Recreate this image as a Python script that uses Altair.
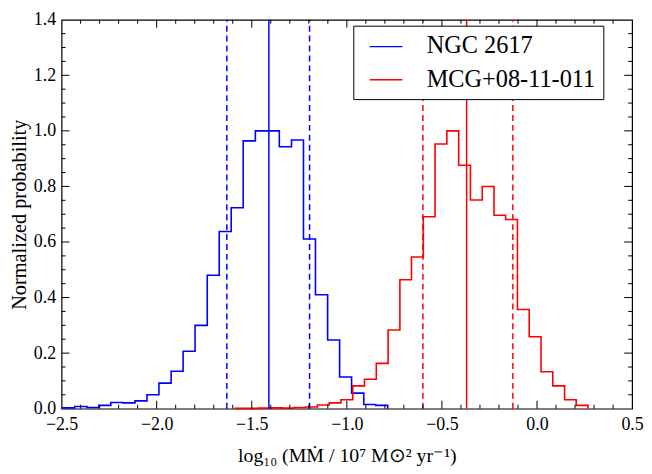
import altair as alt
import pandas as pd

# ---- data ----
blue_name = "NGC 2617"
red_name = "MCG+08-11-011"

blue_edges = [-2.494, -2.431, -2.367, -2.304, -2.241, -2.178, -2.114, -2.051, -1.988,
              -1.924, -1.861, -1.798, -1.734, -1.671, -1.608, -1.545, -1.481, -1.418,
              -1.355, -1.291, -1.228, -1.165, -1.101, -1.038, -0.975, -0.911, -0.848, -0.785]
blue_heights = [0.003, 0.008, 0.004, 0.012, 0.022, 0.021, 0.028, 0.050, 0.092,
                0.135, 0.207, 0.300, 0.480, 0.638, 0.723, 0.964, 1.000, 1.000,
                0.943, 0.967, 0.611, 0.410, 0.247, 0.114, 0.056, 0.015, 0.012]

red_edges = [-1.588, -1.526, -1.464, -1.402, -1.340, -1.279, -1.217, -1.155, -1.093,
             -1.031, -0.969, -0.907, -0.845, -0.783, -0.721, -0.660, -0.598, -0.536,
             -0.474, -0.412, -0.350, -0.288, -0.226, -0.165, -0.103, -0.041, 0.021,
             0.083, 0.145, 0.206, 0.268]
red_heights = [0.001, 0.001, 0.002, 0.003, 0.002, 0.004, 0.006, 0.013, 0.021,
               0.032, 0.082, 0.106, 0.163, 0.283, 0.464, 0.546, 0.691, 0.953,
               1.000, 0.876, 0.751, 0.800, 0.696, 0.681, 0.357, 0.259, 0.133,
               0.082, 0.032, 0.012]

# median and 1-sigma bounds (vertical lines)
line_series = [blue_name, blue_name, blue_name, red_name, red_name, red_name]
line_values = [-1.410, -1.631, -1.196, -0.370, -0.600, -0.127]
line_kind = ["median", "bound", "bound", "median", "bound", "bound"]

x_labels = [-2.5, -2.0, -1.5, -1.0, -0.5, 0.0, 0.5]
y_labels = [0.0, 0.2, 0.4, 0.6, 0.8, 1.0, 1.2, 1.4]
x_major = [-2.0, -1.5, -1.0, -0.5, 0.0]
x_minor = [-2.4, -2.3, -2.2, -2.1, -1.9, -1.8, -1.7, -1.6, -1.4, -1.3, -1.2, -1.1,
           -0.9, -0.8, -0.7, -0.6, -0.4, -0.3, -0.2, -0.1, 0.1, 0.2, 0.3, 0.4]
y_major = [0.2, 0.4, 0.6, 0.8, 1.0, 1.2]
y_minor = [0.05, 0.1, 0.15, 0.25, 0.3, 0.35, 0.45, 0.5, 0.55, 0.65, 0.7, 0.75,
           0.85, 0.9, 0.95, 1.05, 1.1, 1.15, 1.25, 1.3, 1.35]

W, H = 575, 392
FONT = "Liberation Serif"


def step_rows(edges, heights, name):
    rows = [{"x": edges[0], "y": 0.0, "series": name, "o": 0}]
    for i, h in enumerate(heights):
        rows.append({"x": edges[i], "y": h, "series": name, "o": i + 1})
    rows.append({"x": edges[-1], "y": 0.0, "series": name, "o": len(heights) + 1})
    return rows


hist_df = pd.DataFrame(step_rows(blue_edges, blue_heights, blue_name)
                       + step_rows(red_edges, red_heights, red_name))
lines_df = pd.DataFrame({"series": line_series, "x": line_values, "kind": line_kind,
                         "y0": 0.0, "y1": 1.4})

xscale = alt.Scale(domain=[-2.5, 0.5], nice=False, zero=False)
yscale = alt.Scale(domain=[0, 1.4], nice=False)
cscale = alt.Scale(domain=[blue_name, red_name], range=["#0000ff", "#ff0000"])

legend = alt.Legend(
    title=None, orient="none", legendX=294, legendY=6,
    symbolType="M-1.375,0H1.375", symbolSize=576, symbolStrokeWidth=1.3,
    labelFont=FONT, labelFontSize=24.5, labelColor="black", labelOffset=28,
    labelLimit=400, rowPadding=8.5, padding=8, symbolOffset=12,
    strokeColor="black", fillColor="white", cornerRadius=0,
)

x_axis = alt.Axis(values=x_labels, format=".1f",
                  ticks=False, domain=False, grid=False, labelFont=FONT,
                  labelFontSize=18, labelColor="black", labelPadding=7,
                  labelFlush=False, labelOverlap=False,
                  title="log₁₀ (MṀ / 10⁷ M⊙² yr⁻¹)", titleFont=FONT,
                  titleFontSize=20, titleFontWeight="normal", titleColor="black",
                  titlePadding=12)
y_axis = alt.Axis(values=y_labels, format=".1f",
                  ticks=False, domain=False, grid=False, labelFont=FONT,
                  labelFontSize=18, labelColor="black", labelPadding=6,
                  labelFlush=False, labelOverlap=False,
                  title="Normalized probability", titleFont=FONT,
                  titleFontSize=20.5, titleFontWeight="normal", titleColor="black",
                  titlePadding=4)

hist = alt.Chart(hist_df).mark_line(interpolate="step-after", strokeWidth=1.6).encode(
    x=alt.X("x:Q", scale=xscale, axis=x_axis),
    y=alt.Y("y:Q", scale=yscale, axis=y_axis),
    color=alt.Color("series:N", scale=cscale, legend=legend),
    order="o:Q",
)

medians = alt.Chart(lines_df).transform_filter(alt.datum.kind == "median").mark_rule(
    strokeWidth=1.5).encode(
    x=alt.X("x:Q", scale=xscale),
    y=alt.Y("y0:Q", scale=yscale),
    y2="y1:Q",
    color=alt.Color("series:N", scale=cscale, legend=legend),
)

bounds = alt.Chart(lines_df).transform_filter(alt.datum.kind == "bound").mark_rule(
    strokeWidth=1.5, strokeDash=[6, 4]).encode(
    x=alt.X("x:Q", scale=xscale),
    y=alt.Y("y0:Q", scale=yscale),
    y2="y1:Q",
    color=alt.Color("series:N", scale=cscale, legend=legend),
)

xmaj_df = pd.DataFrame({"x": x_major})
xmin_df = pd.DataFrame({"x": x_minor})
ymaj_df = pd.DataFrame({"y": y_major})
ymin_df = pd.DataFrame({"y": y_minor})


def xticks(df, y1, y2):
    return alt.Chart(df).mark_rule(color="black", strokeWidth=1).encode(
        x=alt.X("x:Q", scale=xscale), y=alt.value(y1), y2=alt.value(y2))


def yticks(df, x1, x2):
    return alt.Chart(df).mark_rule(color="black", strokeWidth=1).encode(
        y=alt.Y("y:Q", scale=yscale), x=alt.value(x1), x2=alt.value(x2))


chart = alt.layer(
    hist, medians, bounds,
    xticks(xmaj_df, H, H - 8), xticks(xmin_df, H, H - 4),
    xticks(xmaj_df, 0, 8), xticks(xmin_df, 0, 4),
    yticks(ymaj_df, 0, 8), yticks(ymin_df, 0, 4),
    yticks(ymaj_df, W, W - 8), yticks(ymin_df, W, W - 4),
).properties(
    width=W, height=H,
    padding={"left": 54, "top": 10, "right": 12, "bottom": 64},
    autosize=alt.AutoSizeParams(type="none"),
    background="white",
).configure_view(
    stroke="black", strokeWidth=1.2,
)

chart.save("out.html", embed_options={"renderer": "svg", "actions": False})
